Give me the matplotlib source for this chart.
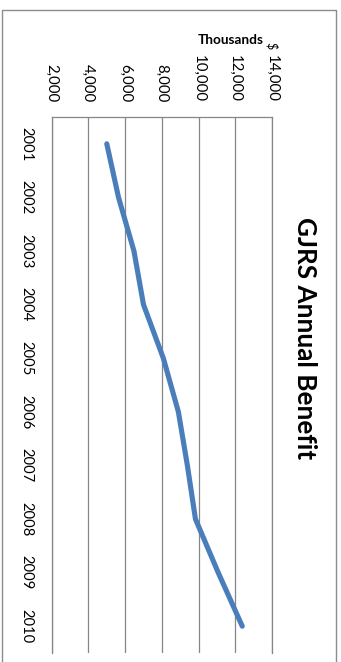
import matplotlib
matplotlib.use("Agg")
import matplotlib.pyplot as plt
from matplotlib.lines import Line2D

# Annual benefit paid, thousands of dollars
years = [2001, 2002, 2003, 2004, 2005, 2006, 2007, 2008, 2009, 2010]
benefit = [5000, 5640, 6480, 7000, 8080, 8900, 9390, 9830, 11070, 12380]

value_ticks = [2000, 4000, 6000, 8000, 10000, 12000, 14000]
value_tick_labels = ["2,000", "4,000", "6,000", "8,000", "10,000", "12,000", "14,000"]
year_tick_labels = [str(y) for y in years]

title = "GJRS Annual Benefit"
unit_label = "Thousands"
axis_title = "$"

plt.rcParams["font.family"] = ["Lato", "DejaVu Sans"]

W, H = 341, 662
fig = plt.figure(figsize=(W / 100, H / 100), dpi=100)
fig.patch.set_facecolor("white")

# chart is laid out turned a quarter turn clockwise
left, right, top, bottom = 51.7, 272.0, 117.0, 653.0
ax = fig.add_axes([left / W, 1 - bottom / H, (right - left) / W, (bottom - top) / H])

grid_col = "#868686"
ax.plot(benefit, years, color="#4A7EBB", lw=3.7,
        solid_capstyle="round", solid_joinstyle="round", zorder=3)

ax.set_xlim(2000, 14000)
ax.set_ylim(years[-1] + 0.5, years[0] - 0.5)

ax.set_xticks(value_ticks)
ax.set_xticklabels(value_tick_labels)
ax.set_yticks(years)
ax.set_yticklabels(year_tick_labels)

ax.xaxis.tick_top()
ax.grid(axis="x", color=grid_col, lw=0.9)
ax.set_axisbelow(True)

ax.spines["bottom"].set_visible(False)
for s in ("top", "left", "right"):
    ax.spines[s].set_color(grid_col)
    ax.spines[s].set_linewidth(0.9)

ax.tick_params(axis="x", length=0, pad=10.5, labelsize=10.8, labelcolor="#000000")
ax.tick_params(axis="y", length=0, pad=18.5, labelsize=10.6, labelcolor="#000000")
for lab in ax.get_xticklabels():
    lab.set_rotation(-90)
    lab.set_ha("center")
    lab.set_va("bottom")
for lab in ax.get_yticklabels():
    lab.set_rotation(-90)
    lab.set_ha("center")
    lab.set_va("center")

fig.text(305 / W, 1 - 338 / H, title, rotation=-90, ha="center", va="center",
         fontsize=18.8, fontweight="bold")
fig.text(231 / W, 1 - 40 / H, unit_label, ha="center", va="center",
         fontsize=9.8, fontweight="bold")
fig.text(271 / W, 1 - 46 / H, axis_title, rotation=-90, ha="center", va="center",
         fontsize=9)

# chart frame
x0, x1, y1 = 1.5 / W, 336 / W, 1 - 10 / H
fig.add_artist(Line2D([x0, x0, x1, x1], [0, y1, y1, 0], transform=fig.transFigure,
                      color="#8c8c8c", lw=1.0))

fig.savefig("out.png", dpi=100)
